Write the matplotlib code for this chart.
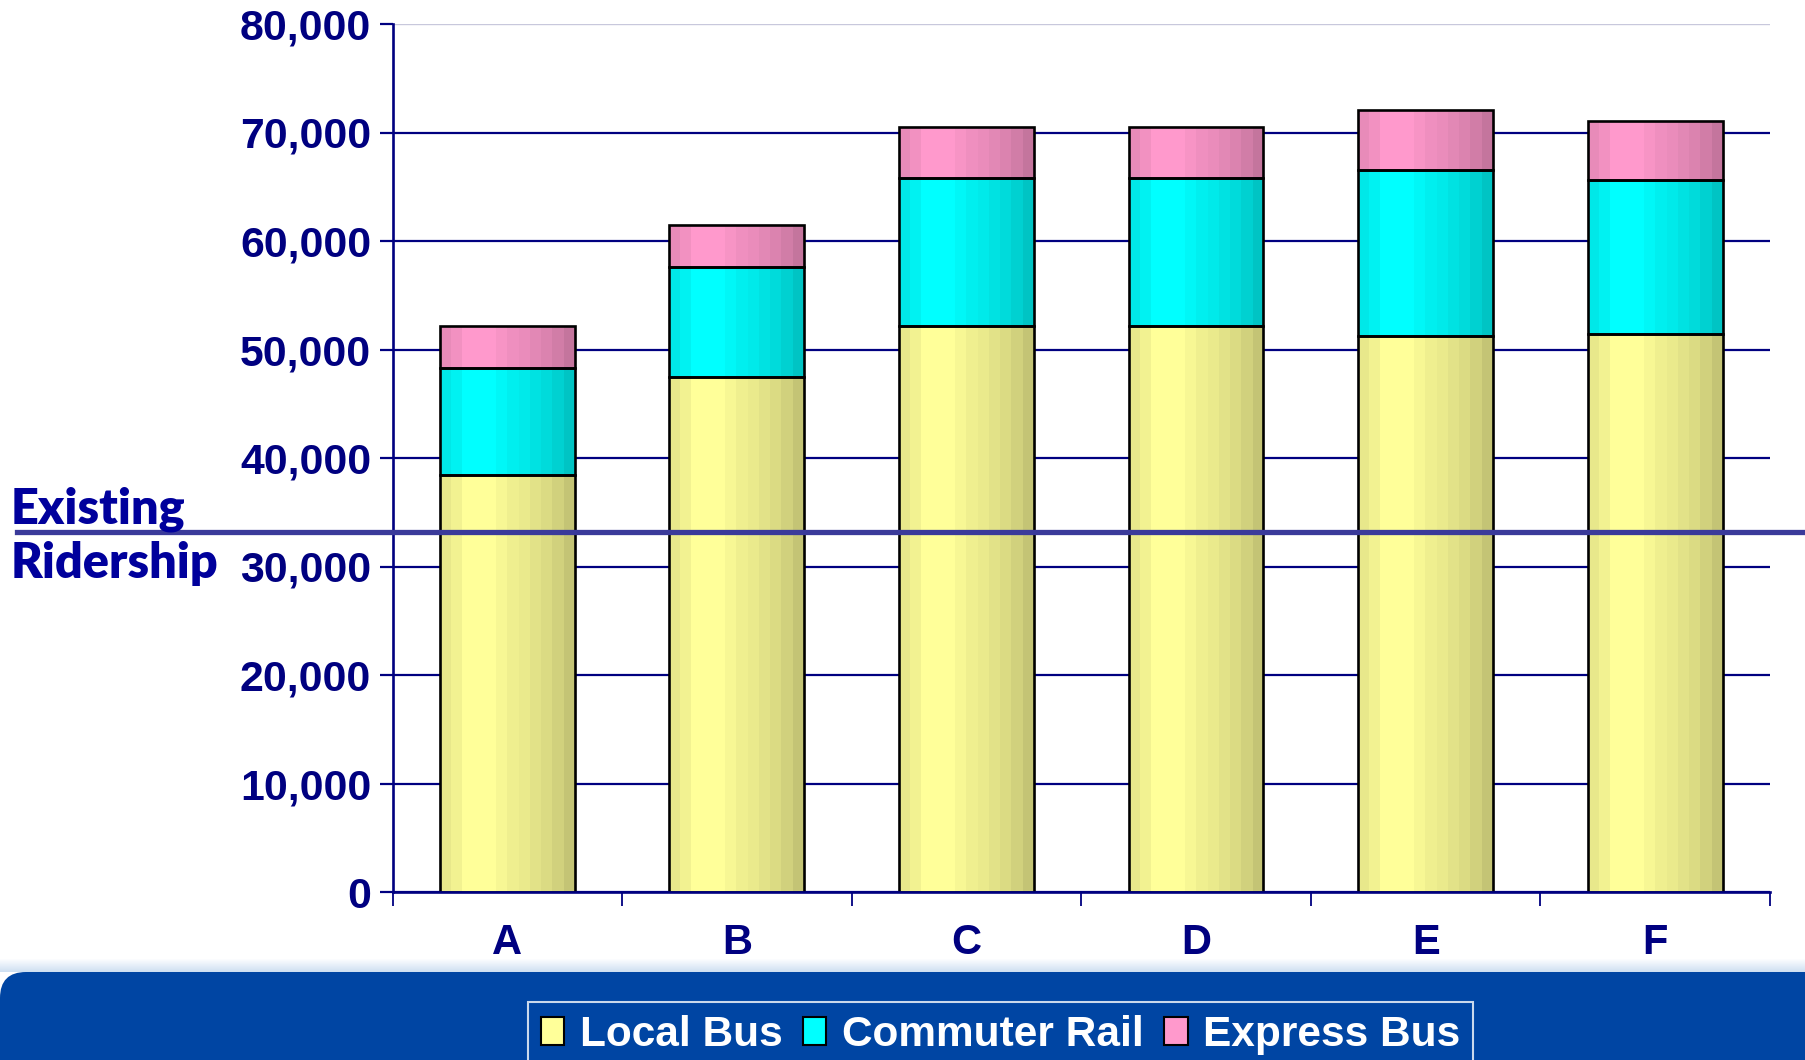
import matplotlib
matplotlib.use('Agg')
import matplotlib.pyplot as plt
import numpy as np
from matplotlib.patches import FancyBboxPatch, Patch
from matplotlib.transforms import IdentityTransform
from matplotlib.ticker import FuncFormatter, FixedLocator
from matplotlib.colors import to_rgb

# ---------------- data ----------------
categories = ['A', 'B', 'C', 'D', 'E', 'F']
local_bus = [38400, 47500, 52200, 52200, 51200, 51400]
commuter_rail = [9900, 10100, 13600, 13600, 15350, 14200]
express_bus = [3900, 3900, 4700, 4700, 5500, 5450]
series_names = ['Local Bus', 'Commuter Rail', 'Express Bus']
existing_ridership = 33200
existing_label = 'Existing\nRidership'
y_ticks = [0, 10000, 20000, 30000, 40000, 50000, 60000, 70000, 80000]

# ---------------- style ----------------
W, H = 1805, 1060
NAVY = '#000080'
colors = ['#FFFF99', '#00FFFF', '#FF99CC']
shade = [0.91, 0.95, 1.0, 1.0, 1.0, 0.97, 0.94, 0.92, 0.89, 0.86, 0.82, 0.77]
bold_font = 'Liberation Sans'

fig = plt.figure(figsize=(W / 100, H / 100), dpi=100)
fig.patch.set_facecolor('white')
ax = fig.add_axes([392.5 / W, 1 - 892 / H, (1770 - 392.5) / W, (892 - 24) / H])

x = np.arange(len(categories))
bw = 0.587
bottoms = np.zeros(len(categories))
for vals, col in zip([local_bus, commuter_rail, express_bus], colors):
    cont = ax.bar(x, vals, bw, bottom=bottoms, color=col, edgecolor='none', zorder=3)
    rgb = np.array(to_rgb(col))
    img = np.clip(np.array(shade)[:, None] * rgb[None, :], 0, 1)[None, :, :]
    for p in cont.patches:
        x0, w, y0, h = p.get_x(), p.get_width(), p.get_y(), p.get_height()
        im = ax.imshow(img, extent=(x0, x0 + w, y0, y0 + h), aspect='auto',
                       interpolation='nearest', zorder=3.1)
        im.set_clip_path(p)
    ax.bar(x, vals, bw, bottom=bottoms, facecolor='none', edgecolor='black',
           linewidth=1.9, zorder=3.2)
    bottoms = bottoms + np.array(vals)

ax.set_xlim(-0.5, len(categories) - 0.5)
ax.set_ylim(0, 80000)
ax.set_aspect('auto')

# y axis
ax.yaxis.set_major_locator(FixedLocator(y_ticks))
ax.yaxis.set_major_formatter(FuncFormatter(lambda v, p: f'{v:,.0f}'))
ax.tick_params(axis='y', which='major', direction='out', length=9.4, width=1.6,
               color=NAVY, pad=6, labelsize=30.8, labelcolor=NAVY)
for lab in ax.get_yticklabels():
    lab.set_fontfamily(bold_font)
    lab.set_fontweight('bold')

# x axis
ax.set_xticks(x)
ax.set_xticklabels(categories)
ax.set_xticks(np.arange(-0.5, len(categories)), minor=True)
ax.tick_params(axis='x', which='major', length=0, pad=22, labelsize=30, labelcolor=NAVY)
ax.tick_params(axis='x', which='minor', direction='out', length=10, width=1.3, color=NAVY)
for lab in ax.get_xticklabels():
    lab.set_fontfamily(bold_font)
    lab.set_fontweight('bold')

# grid
ax.yaxis.grid(True, color=NAVY, linewidth=1.6, zorder=1)
ax.set_axisbelow(True)
gls = ax.get_ygridlines()
gls[-1].set_color('#c8c8dc')
gls[-1].set_linewidth(1.0)

for s in ['top', 'right']:
    ax.spines[s].set_visible(False)
for s in ['left', 'bottom']:
    ax.spines[s].set_color(NAVY)
    ax.spines[s].set_linewidth(1.9)
    ax.spines[s].set_zorder(3.5)

# existing ridership line
ax.axhline(existing_ridership, xmin=(17 - 392.5) / (1770 - 392.5),
           xmax=(W + 5 - 392.5) / (1770 - 392.5), color='#3a3a9a',
           linewidth=3.8, clip_on=False, zorder=4)
top_lbl, bot_lbl = existing_label.split('\n')
for txt, dy in [(top_lbl, 6), (bot_lbl, -33)]:
    ax.annotate(txt, xy=(11 / W, existing_ridership), xycoords=('figure fraction', 'data'),
                xytext=(0, dy), textcoords='offset points', ha='left', va='baseline',
                fontsize=35, fontfamily='Lato', fontweight='heavy', color='#00009c',
                annotation_clip=False, zorder=5)

# bottom blue band
band = FancyBboxPatch((0, -60), W + 60, 1060 - 972 + 60,
                      boxstyle='round,pad=0,rounding_size=26',
                      transform=IdentityTransform(), facecolor='#0045a3',
                      edgecolor='none', zorder=1)
fig.patches.append(band)
grad = np.linspace(1, 0, 14)[:, None]
base = np.array(to_rgb('#cfe0f2'))
strip = (1 - grad[..., None]) * base[None, None, :] + grad[..., None] * 1.0
strip = np.repeat(strip, W, axis=1)
fig.figimage(strip, xo=0, yo=1060 - 972, origin='upper', zorder=0.9)

# legend
handles = [Patch(facecolor=c, edgecolor='black', linewidth=1.5) for c in colors]
leg = fig.legend(handles, series_names, loc='upper left',
                 bbox_to_anchor=(528 / W, 1 - 1002 / H), bbox_transform=fig.transFigure,
                 ncol=3, frameon=True, fancybox=False, borderaxespad=0,
                 prop={'family': bold_font, 'weight': 'bold', 'size': 30.5},
                 labelcolor='white', handlelength=0.56, handleheight=0.65,
                 handletextpad=0.37, columnspacing=0.47, borderpad=0.3)
leg.get_frame().set_facecolor('none')
leg.get_frame().set_edgecolor('white')
leg.get_frame().set_linewidth(1.5)

fig.savefig('out.png', dpi=100, facecolor='white')
